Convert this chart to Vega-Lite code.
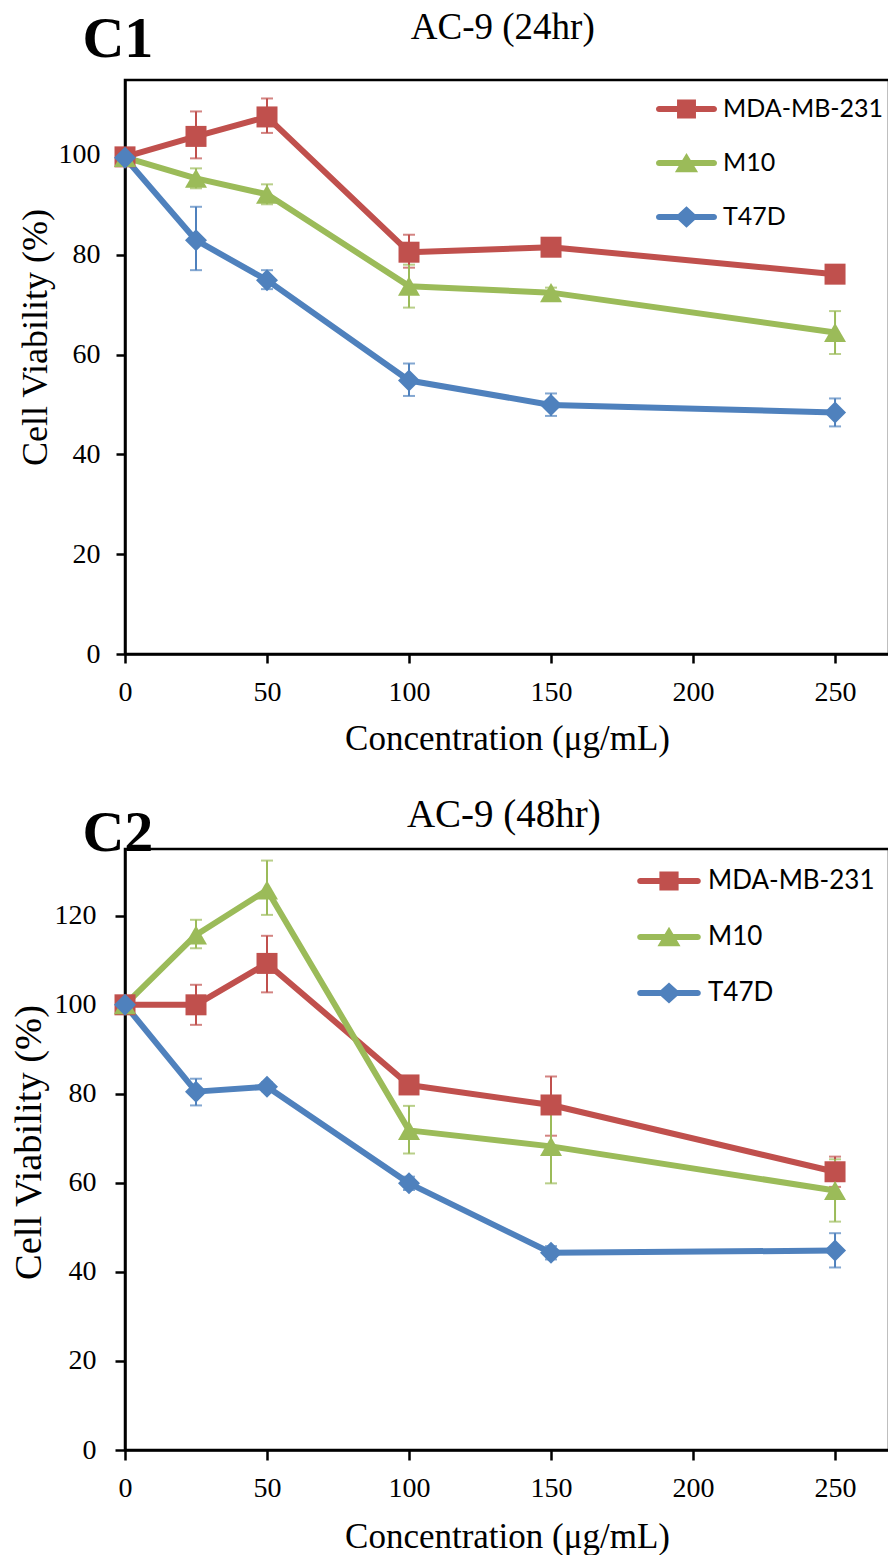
{
  "$schema": "https://vega.github.io/schema/vega-lite/v6.json",
  "background": "white",
  "padding": {"left": 7, "top": 7, "right": 0, "bottom": 0},
  "spacing": 36,
  "config": {
    "view": {"stroke": "black", "strokeWidth": 2.5},
    "axis": {
      "labelFont": "Liberation Serif", "labelColor": "black",
      "titleFont": "Liberation Serif", "titleColor": "black", "titleFontWeight": "normal",
      "domainColor": "black", "domainWidth": 2.5, "tickColor": "black", "tickWidth": 2.5,
      "grid": false, "labelOverlap": false, "labelFlush": false
    }
  },
  "resolve": {
    "scale": {"x": "independent", "y": "independent", "color": "independent"},
    "axis": {"x": "independent", "y": "independent"},
    "legend": {"color": "independent"}
  },
  "datasets": {
    "c1": [
      {"conc": 0, "cell": "MDA-MB-231", "v": 99.6, "lo": 98.8, "hi": 100.4},
      {"conc": 25, "cell": "MDA-MB-231", "v": 103.7, "lo": 99.3, "hi": 108.7},
      {"conc": 50, "cell": "MDA-MB-231", "v": 107.6, "lo": 104.4, "hi": 111.3},
      {"conc": 100, "cell": "MDA-MB-231", "v": 80.5, "lo": 77.4, "hi": 84.0},
      {"conc": 150, "cell": "MDA-MB-231", "v": 81.5, "lo": 80.5, "hi": 82.5},
      {"conc": 250, "cell": "MDA-MB-231", "v": 76.1, "lo": 75.0, "hi": 77.2},
      {"conc": 0, "cell": "M10", "v": 99.5, "lo": 98.7, "hi": 100.3},
      {"conc": 25, "cell": "M10", "v": 95.3, "lo": 93.3, "hi": 97.3},
      {"conc": 50, "cell": "M10", "v": 92.1, "lo": 90.1, "hi": 94.1},
      {"conc": 100, "cell": "M10", "v": 73.7, "lo": 69.4, "hi": 78.0},
      {"conc": 150, "cell": "M10", "v": 72.4, "lo": 71.4, "hi": 73.4},
      {"conc": 250, "cell": "M10", "v": 64.4, "lo": 60.1, "hi": 68.7},
      {"conc": 0, "cell": "T47D", "v": 99.4, "lo": 98.6, "hi": 100.2},
      {"conc": 25, "cell": "T47D", "v": 82.9, "lo": 76.9, "hi": 89.6},
      {"conc": 50, "cell": "T47D", "v": 74.9, "lo": 73.1, "hi": 76.9},
      {"conc": 100, "cell": "T47D", "v": 54.8, "lo": 51.7, "hi": 58.2},
      {"conc": 150, "cell": "T47D", "v": 49.9, "lo": 47.7, "hi": 52.2},
      {"conc": 250, "cell": "T47D", "v": 48.4, "lo": 45.6, "hi": 51.2}
    ],
    "c2": [
      {"conc": 0, "cell": "MDA-MB-231", "v": 100.0, "lo": 99.0, "hi": 101.0},
      {"conc": 25, "cell": "MDA-MB-231", "v": 100.0, "lo": 95.5, "hi": 104.5},
      {"conc": 50, "cell": "MDA-MB-231", "v": 109.3, "lo": 102.8, "hi": 115.5},
      {"conc": 100, "cell": "MDA-MB-231", "v": 82.0, "lo": 80.8, "hi": 83.2},
      {"conc": 150, "cell": "MDA-MB-231", "v": 77.5, "lo": 70.6, "hi": 83.9},
      {"conc": 250, "cell": "MDA-MB-231", "v": 62.5, "lo": 59.1, "hi": 65.9},
      {"conc": 0, "cell": "M10", "v": 100.0, "lo": 99.0, "hi": 101.0},
      {"conc": 25, "cell": "M10", "v": 115.7, "lo": 112.7, "hi": 119.1},
      {"conc": 50, "cell": "M10", "v": 125.8, "lo": 120.2, "hi": 132.4},
      {"conc": 100, "cell": "M10", "v": 71.8, "lo": 66.6, "hi": 77.3},
      {"conc": 150, "cell": "M10", "v": 68.2, "lo": 59.9, "hi": 76.5},
      {"conc": 250, "cell": "M10", "v": 58.3, "lo": 51.3, "hi": 65.3},
      {"conc": 0, "cell": "T47D", "v": 100.0, "lo": 99.0, "hi": 101.0},
      {"conc": 25, "cell": "T47D", "v": 80.5, "lo": 77.4, "hi": 83.4},
      {"conc": 50, "cell": "T47D", "v": 81.6, "lo": 80.6, "hi": 82.6},
      {"conc": 100, "cell": "T47D", "v": 59.9, "lo": 58.4, "hi": 61.4},
      {"conc": 150, "cell": "T47D", "v": 44.3, "lo": 42.8, "hi": 45.8},
      {"conc": 250, "cell": "T47D", "v": 44.8, "lo": 41.0, "hi": 48.7}
    ]
  },
  "vconcat": [
    {
      "width": 764,
      "height": 574,
      "data": {"name": "c1"},
      "encoding": {
        "x": {"field": "conc", "type": "quantitative", "scale": {"domain": [0, 269], "nice": false, "zero": false},
          "axis": {"values": [0, 50, 100, 150, 200, 250], "title": "Concentration (μg/mL)", "titleFontSize": 35, "titleBaseline": "alphabetic", "titleY": 95, "labelFontSize": 28, "labelBaseline": "alphabetic", "labelPadding": 37, "tickSize": 9}},
        "y": {"field": "v", "type": "quantitative", "scale": {"domain": [0, 115], "nice": false, "zero": false},
          "axis": {"values": [0, 20, 40, 60, 80, 100], "title": "Cell Viability (%)", "titleFontSize": 36, "titleAngle": -90, "titleBaseline": "alphabetic", "titleAlign": "center", "titleX": -79, "titleY": 257, "labelFontSize": 28, "labelPadding": 16, "tickSize": 9}},
        "color": {"field": "cell", "type": "nominal", "scale": {"domain": ["MDA-MB-231", "M10", "T47D"], "range": ["#C0504D", "#9BBB59", "#4F81BD"]},
          "legend": {"orient": "none", "legendX": 531, "legendY": -1.5, "title": null, "direction": "vertical", "symbolSize": 3721, "symbolStrokeWidth": 0, "symbolOpacity": 1, "labelFont": "Lato", "labelFontSize": 25, "labelColor": "black", "labelOffset": 6, "rowPadding": 10, "padding": 0, "labelLimit": 400,
            "encode": {"symbols": {"update": {
              "shape": {"signal": "datum.value === 'MDA-MB-231' ? 'M-0.9,-0.1L0.9,-0.1A0.1,0.1 0 0 1 0.9,0.1L-0.9,0.1A0.1,0.1 0 0 1 -0.9,-0.1Z M-0.31,-0.31L0.31,-0.31L0.31,0.31L-0.31,0.31Z' : datum.value === 'M10' ? 'M-0.9,-0.1L0.9,-0.1A0.1,0.1 0 0 1 0.9,0.1L-0.9,0.1A0.1,0.1 0 0 1 -0.9,-0.1Z M0,-0.33L0.38,0.3L-0.38,0.3Z' : 'M-0.9,-0.1L0.9,-0.1A0.1,0.1 0 0 1 0.9,0.1L-0.9,0.1A0.1,0.1 0 0 1 -0.9,-0.1Z M0,-0.35L0.38,0L0,0.35L-0.38,0Z'"},
              "fill": {"signal": "datum.value === 'MDA-MB-231' ? '#C0504D' : datum.value === 'M10' ? '#9BBB59' : '#4F81BD'"},
              "size": {"value": 3721},
              "strokeWidth": {"value": 0},
              "opacity": {"value": 1}
            }}}}}
      },
      "layer": [
        {
          "mark": {"type": "errorbar", "ticks": {"size": 12}, "thickness": 2},
          "encoding": {
            "y": {"field": "lo", "type": "quantitative", "scale": {"domain": [0, 115], "nice": false, "zero": false},
              "axis": {"values": [0, 20, 40, 60, 80, 100], "title": "Cell Viability (%)", "titleFontSize": 36, "titleAngle": -90, "titleBaseline": "alphabetic", "titleAlign": "center", "titleX": -79, "titleY": 257, "labelFontSize": 28, "labelPadding": 16, "tickSize": 9}},
            "y2": {"field": "hi"}
          }
        },
        {
          "mark": {"type": "line", "strokeWidth": 6, "strokeJoin": "round", "strokeCap": "round"}
        },
        {
          "transform": [{"filter": "datum.cell === 'MDA-MB-231'"}],
          "mark": {"type": "point", "shape": "square", "filled": true, "opacity": 1, "size": 441, "strokeWidth": 0}
        },
        {
          "transform": [{"filter": "datum.cell === 'M10'"}],
          "mark": {"type": "point", "shape": "triangle-up", "filled": true, "opacity": 1, "size": 484, "strokeWidth": 0}
        },
        {
          "transform": [{"filter": "datum.cell === 'T47D'"}],
          "mark": {"type": "point", "shape": "diamond", "filled": true, "opacity": 1, "size": 484, "strokeWidth": 0}
        },
        {
          "mark": {"type": "text", "text": "C1", "font": "Liberation Serif", "fontSize": 58, "fontWeight": "bold", "align": "left", "baseline": "alphabetic", "fill": "black"},
          "transform": [{"filter": "datum.conc == 0 && datum.cell == 'MDA-MB-231'"}],
          "encoding": {
            "x": {"datum": -15, "type": "quantitative"},
            "y": {"datum": 119.6, "type": "quantitative"},
            "color": {"value": "black"}
          }
        },
        {
          "mark": {"type": "text", "text": "AC-9 (24hr)", "font": "Liberation Serif", "fontSize": 37, "fontWeight": "normal", "align": "center", "baseline": "alphabetic", "fill": "black"},
          "transform": [{"filter": "datum.conc == 0 && datum.cell == 'MDA-MB-231'"}],
          "encoding": {
            "x": {"datum": 133, "type": "quantitative"},
            "y": {"datum": 123.2, "type": "quantitative"},
            "color": {"value": "black"}
          }
        }
      ]
    },
    {
      "width": 764,
      "height": 601,
      "data": {"name": "c2"},
      "encoding": {
        "x": {"field": "conc", "type": "quantitative", "scale": {"domain": [0, 269], "nice": false, "zero": false},
          "axis": {"values": [0, 50, 100, 150, 200, 250], "title": "Concentration (μg/mL)", "titleFontSize": 35, "titleBaseline": "alphabetic", "titleY": 97, "labelFontSize": 28, "labelBaseline": "alphabetic", "labelPadding": 36, "tickSize": 10}},
        "y": {"field": "v", "type": "quantitative", "scale": {"domain": [0, 135], "nice": false, "zero": false},
          "axis": {"values": [0, 20, 40, 60, 80, 100, 120], "title": "Cell Viability (%)", "titleFontSize": 38.5, "titleAngle": -90, "titleBaseline": "alphabetic", "titleAlign": "center", "titleX": -85, "titleY": 293, "labelFontSize": 28, "labelPadding": 19, "tickSize": 10}},
        "color": {"field": "cell", "type": "nominal", "scale": {"domain": ["MDA-MB-231", "M10", "T47D"], "range": ["#C0504D", "#9BBB59", "#4F81BD"]},
          "legend": {"orient": "none", "legendX": 512, "legendY": 0, "title": null, "direction": "vertical", "symbolSize": 4096, "symbolStrokeWidth": 0, "symbolOpacity": 1, "labelFont": "Lato", "labelFontSize": 26, "labelColor": "black", "labelOffset": 7, "rowPadding": 11, "padding": 0, "labelLimit": 400,
            "encode": {"symbols": {"update": {
              "shape": {"signal": "datum.value === 'MDA-MB-231' ? 'M-0.9,-0.094L0.9,-0.094A0.094,0.094 0 0 1 0.9,0.094L-0.9,0.094A0.094,0.094 0 0 1 -0.9,-0.094Z M-0.3,-0.3L0.3,-0.3L0.3,0.3L-0.3,0.3Z' : datum.value === 'M10' ? 'M-0.9,-0.094L0.9,-0.094A0.094,0.094 0 0 1 0.9,0.094L-0.9,0.094A0.094,0.094 0 0 1 -0.9,-0.094Z M0,-0.32L0.36,0.29L-0.36,0.29Z' : 'M-0.9,-0.094L0.9,-0.094A0.094,0.094 0 0 1 0.9,0.094L-0.9,0.094A0.094,0.094 0 0 1 -0.9,-0.094Z M0,-0.33L0.36,0L0,0.33L-0.36,0Z'"},
              "fill": {"signal": "datum.value === 'MDA-MB-231' ? '#C0504D' : datum.value === 'M10' ? '#9BBB59' : '#4F81BD'"},
              "size": {"value": 4096},
              "strokeWidth": {"value": 0},
              "opacity": {"value": 1}
            }}}}}
      },
      "layer": [
        {
          "mark": {"type": "errorbar", "ticks": {"size": 12}, "thickness": 2},
          "encoding": {
            "y": {"field": "lo", "type": "quantitative", "scale": {"domain": [0, 135], "nice": false, "zero": false},
              "axis": {"values": [0, 20, 40, 60, 80, 100, 120], "title": "Cell Viability (%)", "titleFontSize": 38.5, "titleAngle": -90, "titleBaseline": "alphabetic", "titleAlign": "center", "titleX": -85, "titleY": 293, "labelFontSize": 28, "labelPadding": 19, "tickSize": 10}},
            "y2": {"field": "hi"}
          }
        },
        {
          "mark": {"type": "line", "strokeWidth": 6, "strokeJoin": "round", "strokeCap": "round"}
        },
        {
          "transform": [{"filter": "datum.cell === 'MDA-MB-231'"}],
          "mark": {"type": "point", "shape": "square", "filled": true, "opacity": 1, "size": 441, "strokeWidth": 0}
        },
        {
          "transform": [{"filter": "datum.cell === 'M10'"}],
          "mark": {"type": "point", "shape": "triangle-up", "filled": true, "opacity": 1, "size": 484, "strokeWidth": 0}
        },
        {
          "transform": [{"filter": "datum.cell === 'T47D'"}],
          "mark": {"type": "point", "shape": "diamond", "filled": true, "opacity": 1, "size": 484, "strokeWidth": 0}
        },
        {
          "mark": {"type": "text", "text": "C2", "font": "Liberation Serif", "fontSize": 58, "fontWeight": "bold", "align": "left", "baseline": "alphabetic", "fill": "black"},
          "transform": [{"filter": "datum.conc == 0 && datum.cell == 'MDA-MB-231'"}],
          "encoding": {
            "x": {"datum": -15, "type": "quantitative"},
            "y": {"datum": 134.55, "type": "quantitative"},
            "color": {"value": "black"}
          }
        },
        {
          "mark": {"type": "text", "text": "AC-9 (48hr)", "font": "Liberation Serif", "fontSize": 39, "fontWeight": "normal", "align": "center", "baseline": "alphabetic", "fill": "black"},
          "transform": [{"filter": "datum.conc == 0 && datum.cell == 'MDA-MB-231'"}],
          "encoding": {
            "x": {"datum": 133.4, "type": "quantitative"},
            "y": {"datum": 139.9, "type": "quantitative"},
            "color": {"value": "black"}
          }
        }
      ]
    }
  ]
}
